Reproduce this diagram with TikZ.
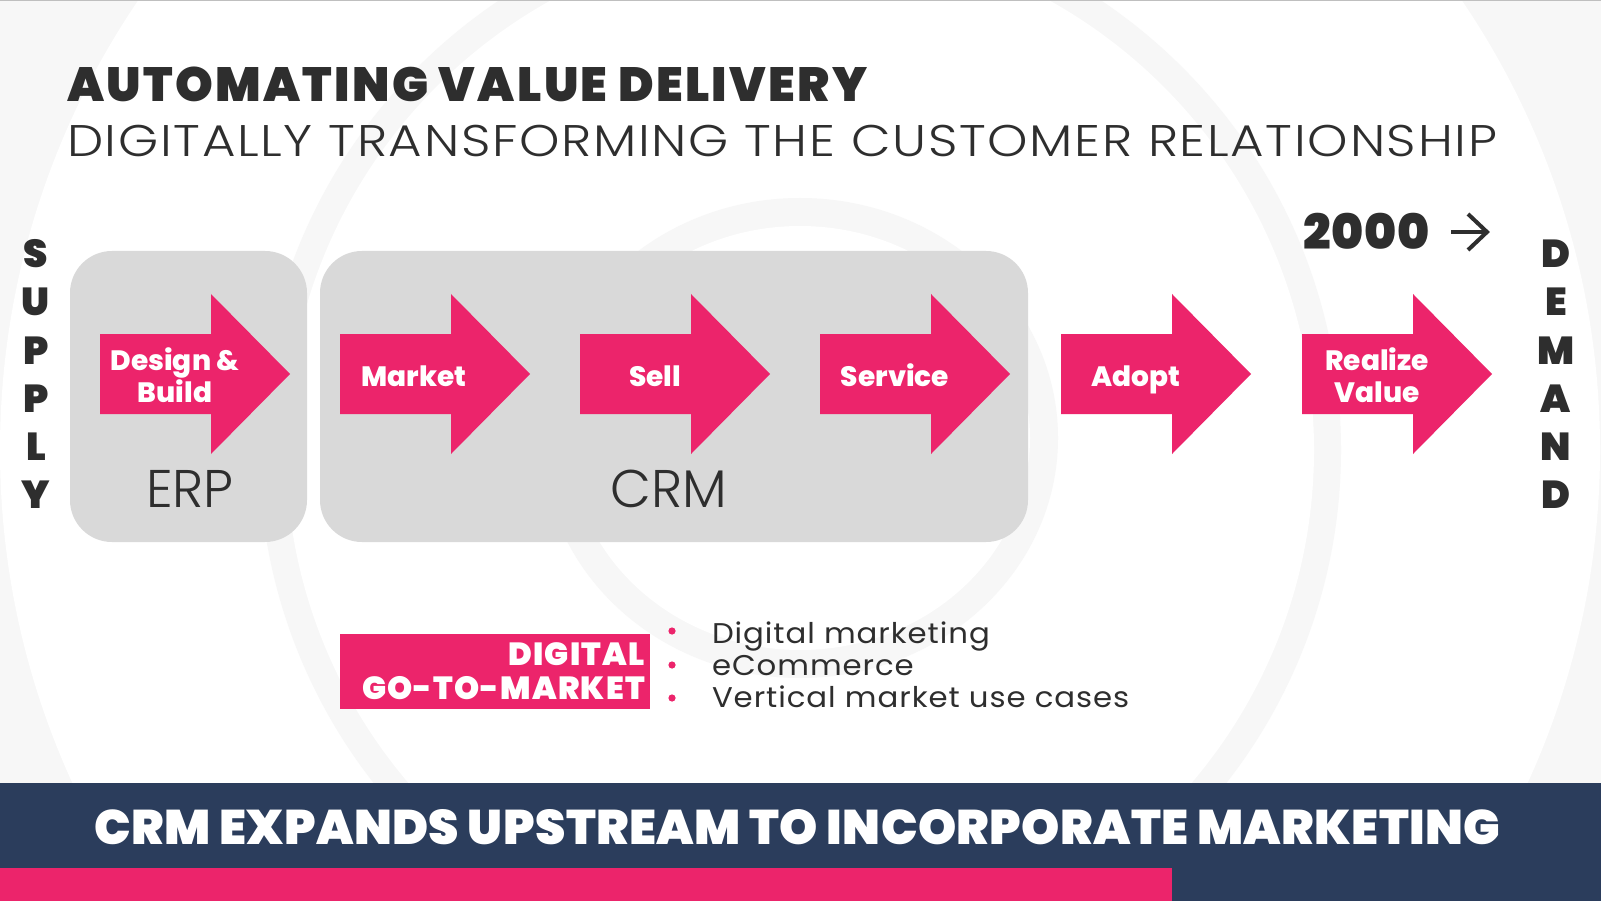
\documentclass[tikz,border=0pt]{standalone}
\usepackage{fontspec}
\setmainfont{Poppins}
\newfontfamily\pblack{Poppins Black}
\newfontfamily\ptitle{Poppins Black}[LetterSpace=4.9]
\newfontfamily\pbanner{Poppins Black}[LetterSpace=0.8]
\newfontfamily\pyear{Poppins Black}[LetterSpace=2]
\newfontfamily\pdgtm{Poppins Black}[LetterSpace=3.8]
\newfontfamily\pxbold{Poppins ExtraBold}
\newfontfamily\plight{Poppins Light}
\newfontfamily\psub{Poppins Light}[FakeStretch=1.16, LetterSpace=3.8]
\newfontfamily\pbul{Poppins}[FakeStretch=1.08, LetterSpace=3.3]
\usetikzlibrary{arrows.meta}
\definecolor{pinkc}{HTML}{EC246B}
\definecolor{navyc}{HTML}{2B3D5C}
\definecolor{boxc}{HTML}{D9D9D9}
\definecolor{ringc}{HTML}{F7F7F7}
\definecolor{darkc}{HTML}{2E2E2E}
\tikzset{
  txt/.style={inner sep=0pt, outer sep=0pt, text=darkc},
  boxstyle/.style={fill=boxc, rounded corners=42pt, inner sep=0pt},
  lbl/.style={inner sep=0pt, outer sep=0pt, text=white, align=center, anchor=base,
    font=\pxbold\fontsize{28}{32}\selectfont},
  sideletter/.style={inner sep=0pt, outer sep=0pt, text=darkc, anchor=base,
    font=\pblack\fontsize{39}{44}\selectfont},
  bullettext/.style={txt, anchor=base west, font=\pbul\fontsize{28.5}{32}\selectfont},
  bigarrow/.pic={\fill[pinkc] (0,-40) -- (111,-40) -- (111,-80) -- (190,0)
    -- (111,80) -- (111,40) -- (0,40) -- cycle;},
}
\begin{document}
\begin{tikzpicture}[x=1pt,y=-1pt]
\useasboundingbox (0,0) rectangle (1601,901);
% background rings
\fill[ringc] (0,0) rectangle (1601,901);
\fill[white] (800,450) circle[radius=800pt];
\fill[ringc] (800,450) circle[radius=541pt];
\fill[white] (800,450) circle[radius=514pt];
\fill[ringc] (800,438) ellipse[x radius=258pt, y radius=240pt];
\fill[white] (800,438) ellipse[x radius=230pt, y radius=212pt];
\draw[black!25, line width=2pt] (0,0) -- (1601,0);

% titles
\node[txt, anchor=base west, font=\ptitle\fontsize{48}{58}\selectfont] (title) at (67,102) {AUTOMATING VALUE DELIVERY};
\node[txt, anchor=base west, font=\psub\fontsize{44.3}{54}\selectfont] (subtitle) at (67,157) {DIGITALLY TRANSFORMING THE CUSTOMER RELATIONSHIP};

% year
\node[txt, anchor=base west, font=\pyear\fontsize{48.6}{58}\selectfont] (year) at (1303,250) {2000};
\coordinate (ya) at (1451,232);
\coordinate (yb) at (1487,232);
\draw[darkc, line width=4pt] (ya) -- (yb);
\draw[darkc, line width=4pt, line join=miter] (yb) ++(-19,-18) -- (yb) -- ++(-19,18);

% supply / demand
\foreach \l [count=\i from 0] in {S,U,P,P,L,Y}
  \node[sideletter] (sup\i) at (36,268+48*\i) {\l};
\foreach \l [count=\i from 0] in {D,E,M,A,N,D}
  \node[sideletter] (dem\i) at (1556,268+48*\i) {\l};

% boxes
\node[boxstyle, minimum width=237pt, minimum height=291pt] (erpbox) at (188.5,396.5) {};
\node[boxstyle, minimum width=708pt, minimum height=291pt] (crmbox) at (674,396.5) {};
\node[txt, anchor=base, font=\plight\fontsize{53}{60}\selectfont] (erp) at (190,507) {ERP};
\node[txt, anchor=base, font=\plight\fontsize{53}{60}\selectfont] (crm) at (669,507) {CRM};

% arrows
\foreach \x in {100,340,580,820,1061,1302}
  \pic at (\x,374) {bigarrow};
\node[lbl] (a1) at (175,402) {Design \&\\Build};
\node[lbl] (a2) at (414,386) {Market};
\node[lbl] (a3) at (655,386) {Sell};
\node[lbl] (a4) at (895,386) {Service};
\node[lbl] (a5) at (1136,386) {Adopt};
\node[lbl] (a6) at (1377,402) {Realize\\Value};

% digital go-to-market
\node[fill=pinkc, minimum width=310pt, minimum height=75pt, inner sep=0pt] (dgtm) at (495,671.5) {};
\node[inner sep=0pt, text=white, anchor=base east, font=\pdgtm\fontsize{32}{34}\selectfont] (dg1) at (645,665) {DIGITAL};
\node[inner sep=0pt, text=white, anchor=base east, font=\pdgtm\fontsize{32}{34}\selectfont] (dg2) at (645,699) {GO-TO-MARKET};

\foreach \yy [count=\i] in {631,665,698}
  \fill[pinkc] (672,\yy) circle[radius=3.6pt];
\node[bullettext] (b1) at (712,643) {Digital marketing};
\node[bullettext] (b2) at (712,675) {eCommerce};
\node[bullettext] (b3) at (712,707) {Vertical market use cases};

% banner
\fill[navyc] (0,783) rectangle (1601,901);
\fill[pinkc] (0,868) rectangle (1172,901);
\node[inner sep=0pt, text=white, anchor=base, font=\pbanner\fontsize{48.6}{58}\selectfont] (banner) at (797.5,844) {CRM EXPANDS UPSTREAM TO INCORPORATE MARKETING};
\end{tikzpicture}
\end{document}
